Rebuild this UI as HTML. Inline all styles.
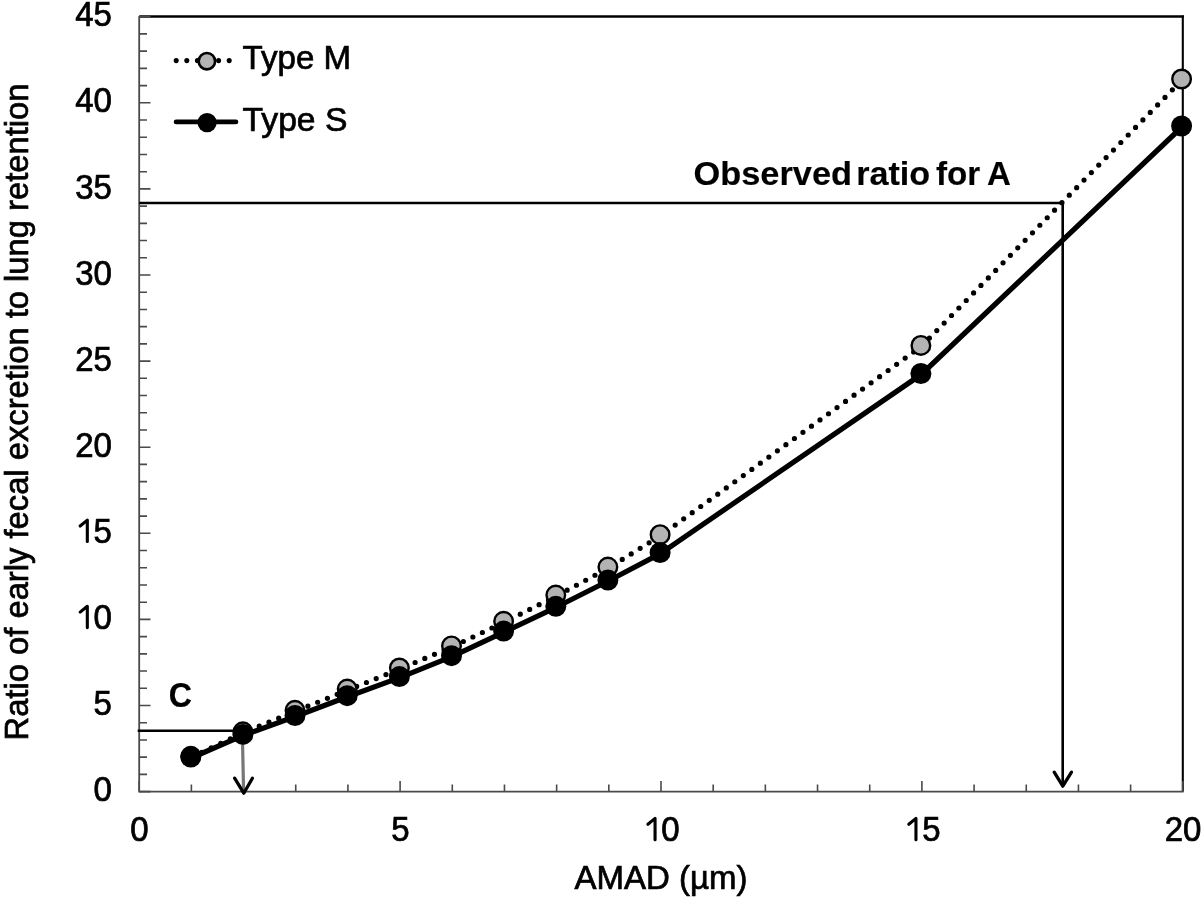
<!DOCTYPE html><html><head><meta charset="utf-8"><style>html,body{margin:0;padding:0;background:#fff;}svg{display:block;}text{font-family:"Liberation Sans",sans-serif;stroke:#000;stroke-width:0.7px;}svg{filter:grayscale(1) blur(0.4px);}</style></head><body>
<svg width="1203" height="898" viewBox="0 0 1203 898">
<rect width="1203" height="898" fill="#fff"/>
<path d="M139.2 16.55 H1183.9" fill="none" stroke="#000" stroke-width="2.4"/>
<path d="M1182.8 15.5 V791.6" fill="none" stroke="#000" stroke-width="2.1"/>
<path d="M139.2 16.1 V791.6 H1183.6" fill="none" stroke="#4a4a4a" stroke-width="1.8"/>
<path d="M139.2 791.60h11.3 M139.2 774.38h7.8 M139.2 757.16h7.8 M139.2 739.94h7.8 M139.2 722.72h7.8 M139.2 705.50h11.3 M139.2 688.28h7.8 M139.2 671.06h7.8 M139.2 653.84h7.8 M139.2 636.62h7.8 M139.2 619.40h11.3 M139.2 602.18h7.8 M139.2 584.96h7.8 M139.2 567.74h7.8 M139.2 550.52h7.8 M139.2 533.30h11.3 M139.2 516.08h7.8 M139.2 498.86h7.8 M139.2 481.64h7.8 M139.2 464.42h7.8 M139.2 447.20h11.3 M139.2 429.98h7.8 M139.2 412.76h7.8 M139.2 395.54h7.8 M139.2 378.32h7.8 M139.2 361.10h11.3 M139.2 343.88h7.8 M139.2 326.66h7.8 M139.2 309.44h7.8 M139.2 292.22h7.8 M139.2 275.00h11.3 M139.2 257.78h7.8 M139.2 240.56h7.8 M139.2 223.34h7.8 M139.2 206.12h7.8 M139.2 188.90h11.3 M139.2 171.68h7.8 M139.2 154.46h7.8 M139.2 137.24h7.8 M139.2 120.02h7.8 M139.2 102.80h11.3 M139.2 85.58h7.8 M139.2 68.36h7.8 M139.2 51.14h7.8 M139.2 33.92h7.8 M139.2 16.70h11.3 M139.20 791.6v-10.5 M191.38 791.6v-7 M243.56 791.6v-7 M295.74 791.6v-7 M347.92 791.6v-7 M400.10 791.6v-10.5 M452.28 791.6v-7 M504.46 791.6v-7 M556.64 791.6v-7 M608.82 791.6v-7 M661.00 791.6v-10.5 M713.18 791.6v-7 M765.36 791.6v-7 M817.54 791.6v-7 M869.72 791.6v-7 M921.90 791.6v-10.5 M974.08 791.6v-7 M1026.26 791.6v-7 M1078.44 791.6v-7 M1130.62 791.6v-7 M1182.80 791.6v-10.5" fill="none" stroke="#4a4a4a" stroke-width="1.6"/>
<text transform="translate(93.55 801.20) scale(1 1.04)" font-size="33">0</text>
<text transform="translate(93.55 715.10) scale(1 1.04)" font-size="33">5</text>
<path d="M87.32 627.60V606.20L80.15 612.10" fill="none" stroke="#000" stroke-width="3.1" stroke-linecap="round" stroke-linejoin="round"/>
<text transform="translate(93.55 629.00) scale(1 1.04)" font-size="33">0</text>
<path d="M87.32 541.50V520.10L80.15 526.00" fill="none" stroke="#000" stroke-width="3.1" stroke-linecap="round" stroke-linejoin="round"/>
<text transform="translate(93.55 542.90) scale(1 1.04)" font-size="33">5</text>
<text transform="translate(75.20 456.80) scale(1 1.04)" font-size="33">2</text>
<text transform="translate(93.55 456.80) scale(1 1.04)" font-size="33">0</text>
<text transform="translate(75.20 370.70) scale(1 1.04)" font-size="33">2</text>
<text transform="translate(93.55 370.70) scale(1 1.04)" font-size="33">5</text>
<text transform="translate(75.20 284.60) scale(1 1.04)" font-size="33">3</text>
<text transform="translate(93.55 284.60) scale(1 1.04)" font-size="33">0</text>
<text transform="translate(75.20 198.50) scale(1 1.04)" font-size="33">3</text>
<text transform="translate(93.55 198.50) scale(1 1.04)" font-size="33">5</text>
<text transform="translate(75.20 112.40) scale(1 1.04)" font-size="33">4</text>
<text transform="translate(93.55 112.40) scale(1 1.04)" font-size="33">0</text>
<text transform="translate(75.20 26.30) scale(1 1.04)" font-size="33">4</text>
<text transform="translate(93.55 26.30) scale(1 1.04)" font-size="33">5</text>
<text transform="translate(130.33 841.20) scale(1 1.04)" font-size="33">0</text>
<text transform="translate(391.23 841.20) scale(1 1.04)" font-size="33">5</text>
<path d="M655.06 839.80V818.40L647.90 824.30" fill="none" stroke="#000" stroke-width="3.1" stroke-linecap="round" stroke-linejoin="round"/>
<text transform="translate(661.30 841.20) scale(1 1.04)" font-size="33">0</text>
<path d="M915.96 839.80V818.40L908.80 824.30" fill="none" stroke="#000" stroke-width="3.1" stroke-linecap="round" stroke-linejoin="round"/>
<text transform="translate(922.20 841.20) scale(1 1.04)" font-size="33">5</text>
<text transform="translate(1164.75 841.20) scale(1 1.04)" font-size="33">2</text>
<text transform="translate(1183.10 841.20) scale(1 1.04)" font-size="33">0</text>
<text x="661" y="888.7" font-size="33" text-anchor="middle">AMAD (µm)</text>
<text transform="translate(28.2 740.5) rotate(-90)" x="0" y="0" font-size="33" textLength="657" lengthAdjust="spacingAndGlyphs">Ratio of early fecal excretion to lung retention</text>
<polyline transform="translate(0.4 1.0)" points="190.8,756.3 242.9,731.8 295.0,710.3 347.2,689.1 399.4,668.0 451.5,645.9 503.6,621.3 555.8,595.1 607.9,567.1 660.1,534.7 920.9,345.4 1181.6,79.0" fill="none" stroke="#000" stroke-width="5.2" stroke-dasharray="0 10.525" stroke-dashoffset="9.385" stroke-linecap="round"/>
<circle cx="190.8" cy="756.3" r="9.3" fill="#b3b3b3" stroke="#000" stroke-width="2.4"/>
<circle cx="242.9" cy="731.8" r="9.3" fill="#b3b3b3" stroke="#000" stroke-width="2.4"/>
<circle cx="295.0" cy="710.3" r="9.3" fill="#b3b3b3" stroke="#000" stroke-width="2.4"/>
<circle cx="347.2" cy="689.1" r="9.3" fill="#b3b3b3" stroke="#000" stroke-width="2.4"/>
<circle cx="399.4" cy="668.0" r="9.3" fill="#b3b3b3" stroke="#000" stroke-width="2.4"/>
<circle cx="451.5" cy="645.9" r="9.3" fill="#b3b3b3" stroke="#000" stroke-width="2.4"/>
<circle cx="503.6" cy="621.3" r="9.3" fill="#b3b3b3" stroke="#000" stroke-width="2.4"/>
<circle cx="555.8" cy="595.1" r="9.3" fill="#b3b3b3" stroke="#000" stroke-width="2.4"/>
<circle cx="607.9" cy="567.1" r="9.3" fill="#b3b3b3" stroke="#000" stroke-width="2.4"/>
<circle cx="660.1" cy="534.7" r="9.3" fill="#b3b3b3" stroke="#000" stroke-width="2.4"/>
<circle cx="920.9" cy="345.4" r="9.3" fill="#b3b3b3" stroke="#000" stroke-width="2.4"/>
<circle cx="1181.6" cy="79.0" r="9.3" fill="#b3b3b3" stroke="#000" stroke-width="2.4"/>
<polyline transform="translate(0.3 1.0)" points="190.8,757.0 242.9,734.4 295.0,715.5 347.2,695.7 399.4,676.6 451.5,655.7 503.6,631.1 555.8,606.3 607.9,580.0 660.1,552.6 920.9,373.5 1181.6,126.0" fill="none" stroke="#000" stroke-width="5.2" stroke-linejoin="round"/>
<circle cx="190.8" cy="757.0" r="10.5" fill="#000"/>
<circle cx="242.9" cy="734.4" r="10.5" fill="#000"/>
<circle cx="295.0" cy="715.5" r="10.5" fill="#000"/>
<circle cx="347.2" cy="695.7" r="10.5" fill="#000"/>
<circle cx="399.4" cy="676.6" r="10.5" fill="#000"/>
<circle cx="451.5" cy="655.7" r="10.5" fill="#000"/>
<circle cx="503.6" cy="631.1" r="10.5" fill="#000"/>
<circle cx="555.8" cy="606.3" r="10.5" fill="#000"/>
<circle cx="607.9" cy="580.0" r="10.5" fill="#000"/>
<circle cx="660.1" cy="552.6" r="10.5" fill="#000"/>
<circle cx="920.9" cy="373.5" r="10.5" fill="#000"/>
<circle cx="1181.6" cy="126.0" r="10.5" fill="#000"/>
<path d="M137.7 730.8 H235.6" stroke="#000" stroke-width="2.6" fill="none"/>
<path d="M242.6 745 L243.6 792" stroke="#777" stroke-width="3.2" fill="none"/>
<path d="M234.6 778.2 L243.8 793.2 L252.4 778.2" stroke="#000" stroke-width="3.3" fill="none" stroke-linejoin="round" stroke-linecap="round"/>
<path d="M139.2 203 H1062.7 V786" stroke="#000" stroke-width="2.6" fill="none"/>
<path d="M1054.2 772.2 L1062.8 786.2 L1071.5 772.2" stroke="#000" stroke-width="3.3" fill="none" stroke-linejoin="round" stroke-linecap="round"/>
<text y="185.4" font-size="33" font-weight="bold" style="stroke-width:0.15px"><tspan x="693.5" textLength="158.5" lengthAdjust="spacingAndGlyphs">Observed</tspan><tspan x="856.2" textLength="74" lengthAdjust="spacingAndGlyphs">ratio</tspan><tspan x="936" textLength="44.2" lengthAdjust="spacingAndGlyphs">for</tspan><tspan x="987">A</tspan></text>
<text x="168.7" y="706.9" font-size="35.8" font-weight="bold" textLength="23.2" lengthAdjust="spacingAndGlyphs" style="stroke-width:0.2px">C</text>
<path d="M176.2 60.6 H230" stroke="#000" stroke-width="5.1" stroke-dasharray="0 10.6" stroke-linecap="round" fill="none"/>
<circle cx="206.9" cy="61.2" r="8.2" fill="#b3b3b3" stroke="#000" stroke-width="2.6"/>
<path d="M176.1 121.9 H235.9" stroke="#000" stroke-width="4.8" stroke-linecap="round" fill="none"/>
<circle cx="207.1" cy="122.6" r="9.6" fill="#000"/>
<text x="242.6" y="69.4" font-size="33.5" textLength="108.4" lengthAdjust="spacingAndGlyphs">Type M</text>
<text x="242.6" y="130.9" font-size="33.5" textLength="104.8" lengthAdjust="spacingAndGlyphs">Type S</text>
</svg></body></html>
